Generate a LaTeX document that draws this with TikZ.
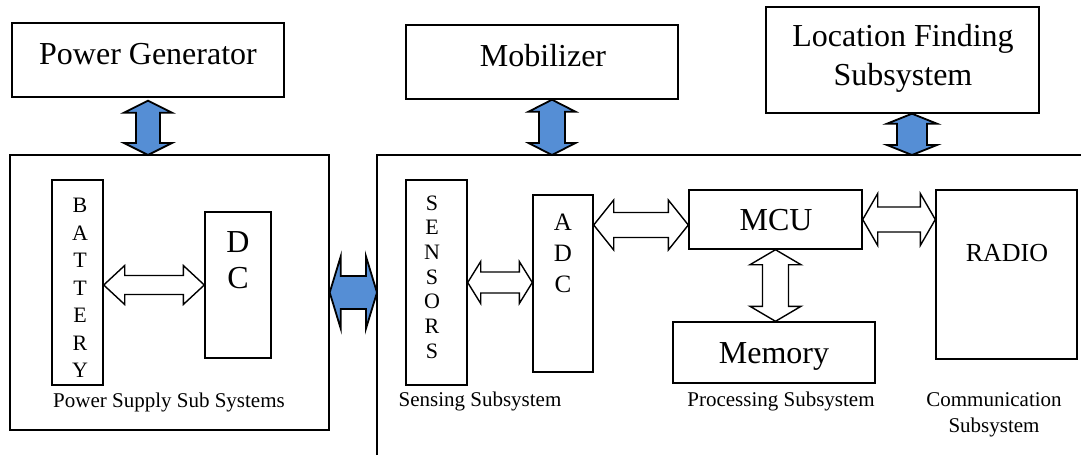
\documentclass[tikz,border=0pt]{standalone}
\usepackage{fontspec}
\setmainfont{Liberation Serif}
\usetikzlibrary{calc}

\definecolor{arrowblue}{RGB}{85,142,213}

% two-headed block arrow from #2 to #3: style, from, to, shaft half width, head half width, head length
\newcommand{\biarrow}[6]{%
  \path (#2) coordinate (ta) (#3) coordinate (tb);
  \path ($(ta)!#6!(tb)$) coordinate (ha) ($(tb)!#6!(ta)$) coordinate (hb);
  \draw[#1] (ta) -- ($(ha)!#5!90:(tb)$) -- ($(ha)!#4!90:(tb)$)
    -- ($(hb)!#4!-90:(ta)$) -- ($(hb)!#5!-90:(ta)$) -- (tb)
    -- ($(hb)!#5!90:(ta)$) -- ($(hb)!#4!90:(ta)$)
    -- ($(ha)!#4!-90:(tb)$) -- ($(ha)!#5!-90:(tb)$) -- cycle;
}

\begin{document}
\begin{tikzpicture}[
  x=1pt, y=-1pt,
  box/.style={draw, line width=1.4pt, inner sep=0pt},
  bigtxt/.style={font=\fontsize{32}{38}\selectfont, align=center},
  captxt/.style={font=\fontsize{21}{26}\selectfont, align=center},
  stack/.style={align=center, inner sep=0pt},
  bluearr/.style={draw=black, line width=1.8pt, fill=arrowblue},
  hollowarr/.style={draw=black, line width=1.4pt, fill=white}
]
\useasboundingbox (0,0) rectangle (1081,455);

% ---------- top row ----------
\node[box, minimum width=272pt, minimum height=74pt] (gen) at (148,60) {};
\node[bigtxt] (gentxt) at (148,54) {Power Generator};
\node[box, minimum width=272pt, minimum height=74pt] (mob) at (542,62) {};
\node[bigtxt] (mobtxt) at (543,55.5) {Mobilizer};
\node[box, minimum width=273pt, minimum height=106pt] (loc) at (902.5,60) {};
\node[bigtxt, font=\fontsize{32}{39}\selectfont] (loctxt) at (903,58) {Location Finding\\Subsystem};

% ---------- power supply ----------
\node[box, minimum width=319pt, minimum height=275pt] (psu) at (169.5,292.5) {};
\node[box, minimum width=51pt, minimum height=205pt] (bat) at (77.5,282.5) {};
\node[stack, font=\fontsize{22}{27.5}\selectfont] (battxt) at (80,288)
  {B\\A\\T\\T\\E\\R\\Y};
\node[box, minimum width=66pt, minimum height=146pt] (dc) at (238,285) {};
\node[stack, font=\fontsize{32}{36}\selectfont] (dctxt) at (238,260) {D\\C};
\node[captxt] (psutxt) at (169,402) {Power Supply Sub Systems};

% ---------- node body (open box) ----------
\coordinate (rb) at (377,155);
\draw[line width=1.4pt] (377,455) -- (rb) -- (1081,155);

\node[box, minimum width=61pt, minimum height=205pt] (sen) at (436.5,282.5) {};
\node[stack, font=\fontsize{22}{24.7}\selectfont] (sentxt) at (432,277)
  {S\\E\\N\\S\\O\\R\\S};
\node[box, minimum width=60pt, minimum height=177pt] (adc) at (563,283.5) {};
\node[stack, font=\fontsize{25}{31}\selectfont] (adctxt) at (563,253) {A\\D\\C};
\node[captxt] (sentxt2) at (480,401.5) {Sensing Subsystem};

\node[box, minimum width=173pt, minimum height=59pt] (mcu) at (775.5,219.5) {};
\node[bigtxt] (mcutxt) at (776,220) {MCU};
\node[box, minimum width=202pt, minimum height=61pt] (mem) at (774,352.5) {};
\node[bigtxt] (memtxt) at (774,356) {Memory};
\node[captxt] (proctxt) at (781,401) {Processing Subsystem};

\node[box, minimum width=141pt, minimum height=169pt] (radio) at (1006.5,274.5) {};
\node[font=\fontsize{26}{30}\selectfont] (radiotxt) at (1007,253.5) {RADIO};
\node[captxt] (commtxt) at (994,414.5) {Communication\\Subsystem};

% ---------- blue arrows ----------
\coordinate (mobarr) at ($(mob.south)+(10,0)$);
\coordinate (locarr) at ($(loc.south)+(9.5,0)$);
\biarrow{bluearr}{$(gen.south)+(0,3)$}{gen.south |- rb}{12pt}{24pt}{12pt}
\biarrow{bluearr}{mobarr}{mobarr |- rb}{13pt}{23.5pt}{12pt}
\biarrow{bluearr}{locarr}{locarr |- rb}{15pt}{25pt}{10pt}
\biarrow{bluearr}{psu.east}{psu.east -| rb}{16.5pt}{36pt}{11pt}

% ---------- hollow arrows ----------
\biarrow{hollowarr}{bat.east |- dc.west}{dc.west}{9.5pt}{19.5pt}{21pt}
\biarrow{hollowarr}{sen.east}{adc.west |- sen.east}{10.5pt}{21pt}{13pt}
\biarrow{hollowarr}{$(adc.east)+(0,-58.5)$}{$(mcu.west)+(0,5.5)$}{12.5pt}{25pt}{20pt}
\biarrow{hollowarr}{mcu.east}{radio.west |- mcu.east}{12.5pt}{26pt}{15pt}
\biarrow{hollowarr}{mcu.south}{mem.north -| mcu.south}{13pt}{25.5pt}{15pt}

\end{tikzpicture}
\end{document}
